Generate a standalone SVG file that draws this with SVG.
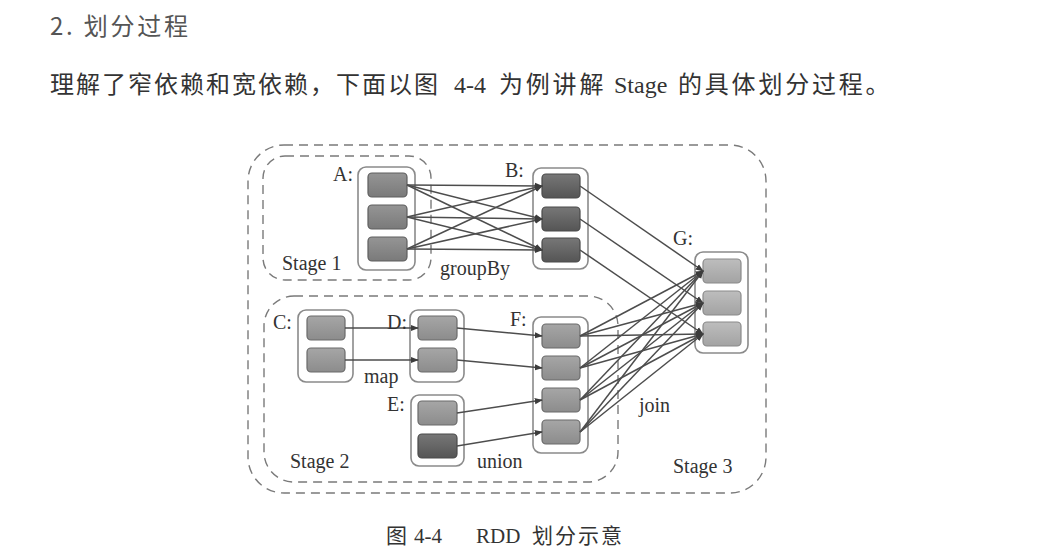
<svg xmlns="http://www.w3.org/2000/svg" width="1052" height="560" viewBox="0 0 1052 560">
<style>
.lbl{font-family:"Liberation Serif","Times New Roman",serif;font-size:20px;fill:#333}
.body{font-family:"Liberation Serif","Noto Sans CJK SC",serif;font-size:24px;fill:#333}
.cont{fill:#fff;stroke:#8a8a8a;stroke-width:1.6}
.stage{fill:none;stroke:#7a7a7a;stroke-width:1.4;stroke-dasharray:9 6}
.pm{fill:url(#gm);stroke:#6a6a6a;stroke-width:1.2}
.pd{fill:url(#gd);stroke:#4a4a4a;stroke-width:1.2}
.pl{fill:url(#gl);stroke:#8a8a8a;stroke-width:1.2}
.pa{fill:url(#ga);stroke:#5e5e5e;stroke-width:1.2}
.edge{stroke:#4d4d4d;stroke-width:1.5;fill:none;marker-end:url(#ah)}
</style>
<defs>
<linearGradient id="gm" x1="0" y1="0" x2="0" y2="1"><stop offset="0" stop-color="#a6a6a6"/><stop offset="1" stop-color="#8c8c8c"/></linearGradient>
<linearGradient id="ga" x1="0" y1="0" x2="0" y2="1"><stop offset="0" stop-color="#959595"/><stop offset="1" stop-color="#7a7a7a"/></linearGradient>
<linearGradient id="gd" x1="0" y1="0" x2="0" y2="1"><stop offset="0" stop-color="#777"/><stop offset="1" stop-color="#555"/></linearGradient>
<linearGradient id="gl" x1="0" y1="0" x2="0" y2="1"><stop offset="0" stop-color="#bdbdbd"/><stop offset="1" stop-color="#a3a3a3"/></linearGradient>
<marker id="ah" viewBox="0 0 10 10" refX="9" refY="5" markerWidth="8" markerHeight="8" markerUnits="userSpaceOnUse" orient="auto"><path d="M0,1 L10,5 L0,9 Z" fill="#3c3c3c"/></marker>
</defs>
<rect width="1052" height="560" fill="#fff"/>
<text x="50" y="35" font-family="'Noto Sans CJK SC','Noto Sans',sans-serif" font-size="24" fill="#555" textLength="138" lengthAdjust="spacing">2. 划分过程</text>
<text class="body" y="93"><tspan x="50" letter-spacing="2">理解了窄依赖和宽依赖，下面以图</tspan><tspan x="454">4-4</tspan><tspan x="499" letter-spacing="2.8">为例讲解</tspan><tspan x="614">Stage</tspan><tspan x="678" letter-spacing="2.8">的具体划分过程。</tspan></text>

<g id="stages">
<rect id="stage3" class="stage" x="248" y="145" width="518" height="348" rx="36"/>
<rect id="stage1" class="stage" x="263" y="156" width="168" height="124" rx="22"/>
<rect id="stage2" class="stage" x="264" y="296" width="354" height="186" rx="30"/>
</g>

<g id="nodeA"><rect class="cont" x="358" y="167" width="57" height="103" rx="8"/>
<rect class="pa" x="368" y="173" width="39" height="24" rx="4"/><rect class="pa" x="368" y="205" width="39" height="24" rx="4"/><rect class="pa" x="368" y="237" width="39" height="24" rx="4"/></g>
<g id="nodeB"><rect class="cont" x="533" y="168" width="55" height="101" rx="8"/>
<rect class="pd" x="542" y="174" width="38" height="24" rx="4"/><rect class="pd" x="542" y="207" width="38" height="24" rx="4"/><rect class="pd" x="542" y="238" width="38" height="24" rx="4"/></g>
<g id="nodeG"><rect class="cont" x="695" y="252" width="53" height="101" rx="8"/>
<rect class="pl" x="703" y="259" width="38" height="24" rx="4"/><rect class="pl" x="703" y="291" width="38" height="24" rx="4"/><rect class="pl" x="703" y="322" width="38" height="24" rx="4"/></g>
<g id="nodeC"><rect class="cont" x="298" y="310" width="55" height="72" rx="8"/>
<rect class="pm" x="307" y="316" width="38" height="24" rx="4"/><rect class="pm" x="307" y="348" width="38" height="24" rx="4"/></g>
<g id="nodeD"><rect class="cont" x="410" y="310" width="54" height="72" rx="8"/>
<rect class="pm" x="418" y="316" width="39" height="24" rx="4"/><rect class="pm" x="418" y="348" width="39" height="24" rx="4"/></g>
<g id="nodeE"><rect class="cont" x="411" y="395" width="53" height="71" rx="8"/>
<rect class="pm" x="418" y="401" width="39" height="24" rx="4"/><rect class="pd" x="418" y="434" width="39" height="24" rx="4"/></g>
<g id="nodeF"><rect class="cont" x="533" y="317" width="55" height="136" rx="8"/>
<rect class="pm" x="542" y="324" width="38" height="24" rx="4"/><rect class="pm" x="542" y="356" width="38" height="24" rx="4"/><rect class="pm" x="542" y="388" width="38" height="24" rx="4"/><rect class="pm" x="542" y="420" width="38" height="24" rx="4"/></g>

<g id="connectors">
<line class="edge" x1="407" y1="185" x2="542" y2="186"/>
<line class="edge" x1="407" y1="185" x2="542" y2="219"/>
<line class="edge" x1="407" y1="185" x2="542" y2="250"/>
<line class="edge" x1="407" y1="217" x2="542" y2="186"/>
<line class="edge" x1="407" y1="217" x2="542" y2="219"/>
<line class="edge" x1="407" y1="217" x2="542" y2="250"/>
<line class="edge" x1="407" y1="249" x2="542" y2="186"/>
<line class="edge" x1="407" y1="249" x2="542" y2="219"/>
<line class="edge" x1="407" y1="249" x2="542" y2="250"/>
<line class="edge" x1="580" y1="186" x2="703" y2="271"/>
<line class="edge" x1="580" y1="219" x2="703" y2="303"/>
<line class="edge" x1="580" y1="250" x2="703" y2="334"/>
<line class="edge" x1="580" y1="336" x2="703" y2="271"/>
<line class="edge" x1="580" y1="336" x2="703" y2="303"/>
<line class="edge" x1="580" y1="336" x2="703" y2="334"/>
<line class="edge" x1="580" y1="368" x2="703" y2="271"/>
<line class="edge" x1="580" y1="368" x2="703" y2="303"/>
<line class="edge" x1="580" y1="368" x2="703" y2="334"/>
<line class="edge" x1="580" y1="400" x2="703" y2="271"/>
<line class="edge" x1="580" y1="400" x2="703" y2="303"/>
<line class="edge" x1="580" y1="400" x2="703" y2="334"/>
<line class="edge" x1="580" y1="432" x2="703" y2="271"/>
<line class="edge" x1="580" y1="432" x2="703" y2="303"/>
<line class="edge" x1="580" y1="432" x2="703" y2="334"/>
<line class="edge" x1="345" y1="328" x2="418" y2="328"/>
<line class="edge" x1="345" y1="360" x2="418" y2="360"/>
<line class="edge" x1="457" y1="328" x2="542" y2="336"/>
<line class="edge" x1="457" y1="360" x2="542" y2="368"/>
<line class="edge" x1="457" y1="413" x2="542" y2="400"/>
<line class="edge" x1="457" y1="446" x2="542" y2="432"/>
</g>

<g id="labels">
<text class="lbl" x="333" y="181">A:</text>
<text class="lbl" x="505" y="177">B:</text>
<text class="lbl" x="673" y="245">G:</text>
<text class="lbl" x="273" y="329">C:</text>
<text class="lbl" x="387" y="329">D:</text>
<text class="lbl" x="510" y="326">F:</text>
<text class="lbl" x="387" y="411">E:</text>
<text class="lbl" x="282" y="270">Stage 1</text>
<text class="lbl" x="440" y="275">groupBy</text>
<text class="lbl" x="364" y="383">map</text>
<text class="lbl" x="290" y="468">Stage 2</text>
<text class="lbl" x="477" y="468">union</text>
<text class="lbl" x="639" y="412">join</text>
<text class="lbl" x="673" y="473">Stage 3</text>
</g>
<text y="543" font-family="'Liberation Serif','Noto Sans CJK SC',serif" font-size="21" fill="#333"><tspan x="386">图</tspan><tspan x="414">4-4</tspan><tspan x="476">RDD</tspan><tspan x="532" letter-spacing="2">划分示意</tspan></text>
</svg>
